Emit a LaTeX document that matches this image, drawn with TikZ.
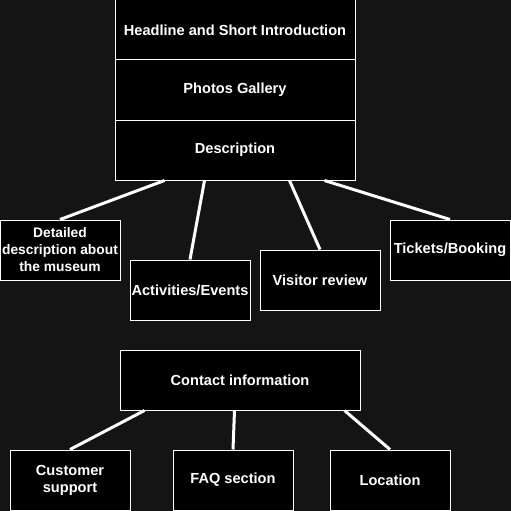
\documentclass[tikz,border=0pt]{standalone}
\usepackage{fontspec}
\setmainfont{Liberation Sans}
\definecolor{bg}{RGB}{20,20,20}
\begin{document}
\begin{tikzpicture}[x=1pt,y=-1pt,
    box/.style={draw=white,fill=black,text=white,line width=1pt,minimum width=120pt,minimum height=60pt,inner sep=0pt,align=center,font=\fontsize{14.6}{17}\selectfont\bfseries},
    wide/.style={box,minimum width=240pt},
    link/.style={draw=white,line width=3pt}]
\fill[bg] (0,0) rectangle (511,511);
\useasboundingbox (0,0) rectangle (511,511);
% page blocks
\node[wide] (header) at (235,30) {Headline and Short Introduction};
\node[wide] (gallery) at (235,90) {Photos Gallery};
\node[wide] (desc) at (235,150) {Description};
% description parts
\node[box,font=\fontsize{13.8}{17}\selectfont\bfseries] (detail) at (60,250) {Detailed\\description about\\the museum};
\node[box] (events) at (190,290) {Activities/Events};
\node[box] (review) at (320,280) {Visitor review};
\node[box] (tickets) at (450,250) {Tickets/Booking};
\draw[link] ([xshift=50pt]desc.south west)--(detail.north);
\draw[link] ([xshift=90pt]desc.south west)--(events.north);
\draw[link] ([xshift=175pt]desc.south west)--(review.north);
\draw[link] ([xshift=210pt]desc.south west)--(tickets.north);

% contact
\node[wide] (contact) at (240,380) {Contact information};
\node[box] (support) at (70,480) {Customer\\support};
\node[box] (faq) at (233,480) {FAQ section};
\node[box] (location) at (390,480) {Location};
\draw[link] ([xshift=25pt]contact.south west)--(support.north);
\draw[link] ([xshift=115pt]contact.south west)--(faq.north);
\draw[link] ([xshift=225pt]contact.south west)--(location.north);

\end{tikzpicture}
\end{document}
